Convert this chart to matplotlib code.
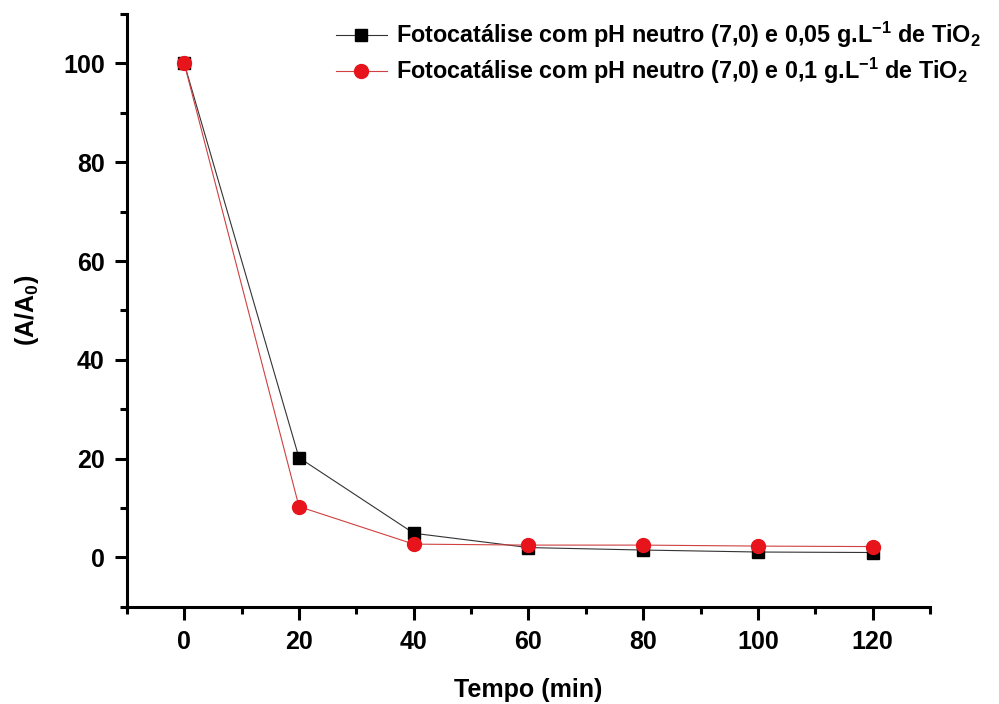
import matplotlib
matplotlib.use("Agg")
import matplotlib.pyplot as plt
from matplotlib.ticker import MultipleLocator

plt.rcParams["font.family"] = ["Liberation Sans", "DejaVu Sans"]
plt.rcParams["font.weight"] = "bold"
plt.rcParams["mathtext.default"] = "regular"

# ---------------- DATA ----------------
tempo = [0, 20, 40, 60, 80, 100, 120]
conc_005 = [100, 20.2, 4.9, 2.0, 1.5, 1.1, 1.0]
conc_01 = [100, 10.3, 2.7, 2.5, 2.5, 2.3, 2.2]

LABEL_005 = r"Fotocatálise com pH neutro (7,0) e 0,05 g.L$^{-1}$ de TiO$_2$"
LABEL_01 = r"Fotocatálise com pH neutro (7,0) e 0,1 g.L$^{-1}$ de TiO$_2$"

fig = plt.figure(figsize=(9.99, 7.04), dpi=100)
ax = fig.add_axes([0.127, 0.138, 0.804, 0.842])

ax.plot(tempo, conc_005, color="#333333", lw=0.8, marker="s", ms=8.5,
        mfc="black", mec="black", label=LABEL_005)
ax.plot(tempo, conc_01, color="#d04040", lw=0.8, marker="o", ms=10,
        mfc="#e8141c", mec="#e8141c", label=LABEL_01)

ax.set_xlim(-10, 130)
ax.set_ylim(-10, 110)
ax.xaxis.set_major_locator(MultipleLocator(20))
ax.xaxis.set_minor_locator(MultipleLocator(10))
ax.yaxis.set_major_locator(MultipleLocator(20))
ax.yaxis.set_minor_locator(MultipleLocator(10))

for s in ["top", "right"]:
    ax.spines[s].set_visible(False)
for s in ["left", "bottom"]:
    ax.spines[s].set_linewidth(2.2)

ax.tick_params(which="major", direction="out", length=9, width=2.2, labelsize=18, pad=7)
ax.tick_params(axis="x", which="major", pad=8)
ax.tick_params(which="minor", direction="out", length=5, width=2.2)
for lab in ax.get_xticklabels() + ax.get_yticklabels():
    lab.set_fontweight("bold")

ax.set_xlabel("Tempo (min)", fontsize=18, fontweight="bold")
ax.xaxis.set_label_coords(0.5, -0.12)
ax.set_ylabel("(A/A$_0$)", fontsize=18, fontweight="bold", labelpad=16)

leg = ax.legend(loc="upper right", bbox_to_anchor=(1.09, 1.025), frameon=False,
                handlelength=2.2, handletextpad=0.4, labelspacing=0.25,
                prop={"weight": "bold", "size": 16.8})

fig.savefig("out.png", dpi=100)
